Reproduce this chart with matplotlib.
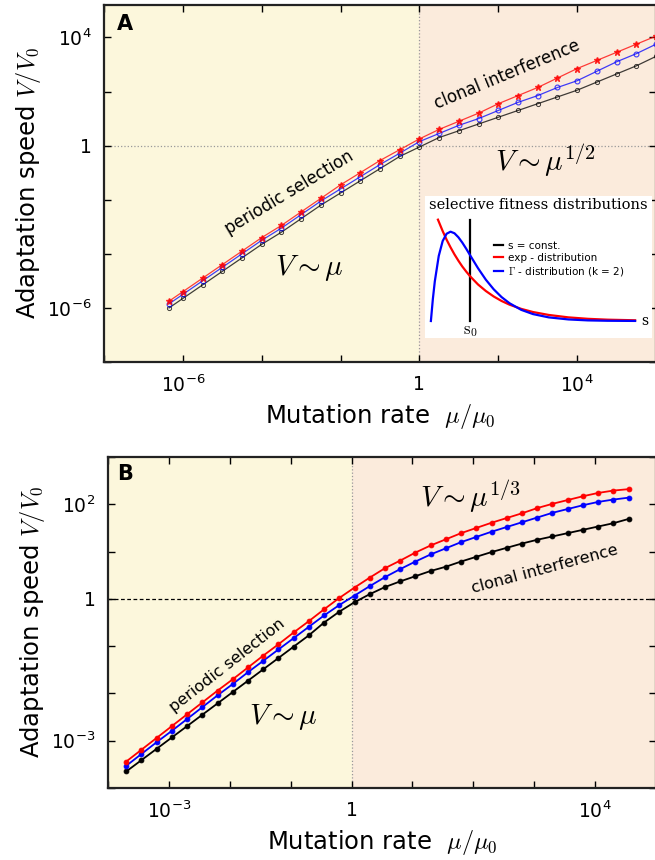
import numpy as np
import matplotlib.pyplot as plt

plt.rcParams['mathtext.fontset'] = 'cm'
plt.rcParams['font.family'] = ['DejaVu Sans']

# ---- panel A data (log10 values)
mu_a_log = [-6.35, -6.0, -5.5, -5.0, -4.5, -4.0, -3.5, -3.0, -2.5, -2.0, -1.5, -1.0, -0.5,
            0.0, 0.5, 1.0, 1.5, 2.0, 2.5, 3.0, 3.5, 4.0, 4.5, 5.0, 5.5, 6.0]
va_black = [-6.0, -5.65, -5.15, -4.65, -4.15, -3.65, -3.2, -2.7, -2.2, -1.75, -1.3, -0.85, -0.4,
            -0.05, 0.3, 0.55, 0.8, 1.05, 1.3, 1.55, 1.8, 2.05, 2.35, 2.65, 2.95, 3.3]
va_red = [-5.75, -5.4, -4.9, -4.4, -3.9, -3.4, -2.95, -2.45, -1.95, -1.45, -1.0, -0.55, -0.15,
          0.25, 0.6, 0.9, 1.2, 1.55, 1.85, 2.15, 2.5, 2.85, 3.15, 3.45, 3.75, 4.05]
va_blue = [-5.85, -5.5, -5.0, -4.5, -4.0, -3.5, -3.05, -2.55, -2.05, -1.6, -1.15, -0.7, -0.28,
           0.15, 0.45, 0.75, 1.0, 1.3, 1.6, 1.85, 2.15, 2.4, 2.75, 3.1, 3.4, 3.75]

# ---- panel B data
mu_b_log = [-3.70, -3.45, -3.20, -2.95, -2.70, -2.45, -2.20, -1.95, -1.70, -1.45, -1.20, -0.95,
            -0.70, -0.45, -0.20, 0.05, 0.30, 0.55, 0.80, 1.05, 1.30, 1.55, 1.80, 2.05, 2.30,
            2.55, 2.80, 3.05, 3.30, 3.55, 3.80, 4.05, 4.30, 4.55]
vb_red = [-3.44, -3.19, -2.94, -2.69, -2.44, -2.19, -1.94, -1.70, -1.45, -1.20, -0.96, -0.71,
          -0.47, -0.22, 0.02, 0.24, 0.45, 0.65, 0.81, 0.98, 1.13, 1.26, 1.39, 1.50, 1.61,
          1.71, 1.81, 1.92, 2.01, 2.09, 2.17, 2.24, 2.29, 2.32]
vb_blue = [-3.53, -3.28, -3.03, -2.79, -2.54, -2.29, -2.04, -1.80, -1.55, -1.31, -1.07, -0.83,
           -0.59, -0.35, -0.13, 0.07, 0.27, 0.46, 0.63, 0.79, 0.94, 1.07, 1.20, 1.31, 1.42,
           1.52, 1.62, 1.72, 1.82, 1.90, 1.98, 2.05, 2.10, 2.14]
vb_black = [-3.65, -3.41, -3.17, -2.93, -2.69, -2.45, -2.21, -1.97, -1.73, -1.49, -1.25, -1.01,
            -0.77, -0.50, -0.27, -0.07, 0.10, 0.25, 0.37, 0.48, 0.59, 0.68, 0.79, 0.89, 0.99,
            1.08, 1.17, 1.25, 1.32, 1.39, 1.46, 1.53, 1.60, 1.69]

# ---- inset: fitness distributions (s in units of s0)
s_gam = [0, 0.05, 0.1, 0.2, 0.3, 0.4, 0.5, 0.6, 0.7, 0.8, 0.9, 1.0, 1.2, 1.4, 1.6, 1.8, 2.0,
         2.3, 2.6, 3.0, 3.5, 4.0, 4.5, 5.2]
p_gam = [0, 0.181, 0.327, 0.536, 0.659, 0.719, 0.736, 0.723, 0.690, 0.646, 0.595, 0.541, 0.435,
         0.340, 0.261, 0.197, 0.147, 0.092, 0.057, 0.030, 0.013, 0.005, 0.002, 0.0006]
s_exp = [0.18, 0.3, 0.4, 0.5, 0.6, 0.7, 0.8, 0.9, 1.0, 1.2, 1.4, 1.6, 1.8, 2.0, 2.3, 2.6, 3.0,
         3.5, 4.0, 4.5, 5.2]
p_exp = [0.835, 0.741, 0.670, 0.607, 0.549, 0.497, 0.449, 0.407, 0.368, 0.301, 0.247, 0.202,
         0.165, 0.135, 0.100, 0.074, 0.050, 0.030, 0.018, 0.011, 0.006]

YELLOW = '#fcf7dc'
PEACH = '#fbebdc'
W, H = 655, 860


def fpos(x, y):
    return x / W, 1 - y / H


fig = plt.figure(figsize=(6.55, 8.6), dpi=100)


def style_axes(ax, xlim, ylim, xt, xl, yt, yl):
    ax.set_xscale('log')
    ax.set_yscale('log')
    ax.set_xlim(*xlim)
    ax.set_ylim(*ylim)
    ax.axvspan(xlim[0], 1, color=YELLOW, zorder=0, lw=0)
    ax.axvspan(1, xlim[1], color=PEACH, zorder=0, lw=0)
    ax.set_xticks(xt, xl)
    ax.set_yticks(yt, yl)
    ax.minorticks_off()
    ax.tick_params(direction='in', top=True, right=True, length=5, width=1,
                   labelsize=13.5, pad=9)
    for sp in ax.spines.values():
        sp.set_linewidth(1.6)
        sp.set_color('#222222')
    ax.set_xlabel(r'Mutation rate  $\mu/\mu_0$', fontsize=17.5, labelpad=4)
    ax.set_ylabel(r'Adaptation speed $V/V_0$', fontsize=17.5, labelpad=3)


def lab(k, mode):
    if k == 0:
        return '1'
    return r'$\mathdefault{10^{%d}}$' % k if k in mode else ''


# ---------------- panel A
axA = fig.add_axes([104 / W, 1 - 362 / H, 552 / W, 357 / H])
xa = list(range(-8, 7, 2))
ya = list(range(-8, 6, 2))
style_axes(axA, (1e-8, 1e6), (10 ** -7.8, 10 ** 5.2),
           [10.0 ** k for k in xa], [lab(k, (-6, 4)) for k in xa],
           [10.0 ** k for k in ya], [lab(k, (-6, 4)) for k in ya])
axA.axvline(1, color='#999999', ls=':', lw=0.9, zorder=1)
axA.axhline(1, color='#999999', ls=':', lw=0.9, zorder=1)

mua = 10.0 ** np.array(mu_a_log)
axA.plot(mua, 10.0 ** np.array(va_black), color='black', lw=0.9, marker='o', ms=3,
         mfc='none', mew=0.7, alpha=0.75, zorder=3)
axA.plot(mua, 10.0 ** np.array(va_blue), color='blue', lw=0.9, marker='o', ms=3.5,
         mfc='none', mew=0.8, alpha=0.75, zorder=4)
axA.plot(mua, 10.0 ** np.array(va_red), color='red', lw=0.9, marker='*', ms=5,
         alpha=0.75, zorder=5)

fig.text(*fpos(117, 24), 'A', fontsize=15, fontweight='bold', va='center', ha='left')
fig.text(*fpos(507, 75), 'clonal interference', fontsize=12, rotation=22.5,
         ha='center', va='center', rotation_mode='anchor')
fig.text(*fpos(289, 193), 'periodic selection', fontsize=12, rotation=31,
         ha='center', va='center', rotation_mode='anchor')
fig.text(*fpos(309, 268), r'$V\sim\mu$', fontsize=21, ha='center', va='center')
fig.text(*fpos(545, 160), r'$V\sim\mu^{1/2}$', fontsize=21, ha='center', va='center')

# inset
axI = fig.add_axes([425 / W, 1 - 338 / H, 227 / W, 142 / H])
axI.set_xlim(-0.15, 5.63)
axI.set_ylim(-0.14, 1.03)
axI.set_facecolor('white')
for sp in axI.spines.values():
    sp.set_visible(False)
axI.set_xticks([])
axI.set_yticks([])
axI.plot([1, 1], [0, 0.83], color='black', lw=1.6, label='s = const.')
axI.plot(s_exp, p_exp, color='red', lw=1.6, label='exp - distribution')
axI.plot(s_gam, p_gam, color='blue', lw=1.6, label=r'$\Gamma$ - distribution (k = 2)')
axI.text(0.5, 0.985, 'selective fitness distributions', transform=axI.transAxes,
         family='DejaVu Serif', fontsize=10.5, ha='center', va='top')
axI.text(5.35, 0.0, 's', family='DejaVu Serif', fontsize=10, ha='left', va='center')
axI.text(1.0, -0.07, r'$\mathrm{s}_0$', fontsize=12, ha='center', va='center')
axI.legend(loc='upper left', bbox_to_anchor=(0.28, 0.72), frameon=False, fontsize=7.5,
           handlelength=0.9, handletextpad=0.5, labelspacing=0.2, borderpad=0)

# ---------------- panel B
axB = fig.add_axes([108 / W, 1 - 788 / H, 548 / W, 331 / H])
xb = list(range(-4, 6))
yb = list(range(-4, 4))
style_axes(axB, (1e-4, 1e5), (1e-4, 1e3),
           [10.0 ** k for k in xb], [lab(k, (-3, 4)) for k in xb],
           [10.0 ** k for k in yb], [lab(k, (-3, 2)) for k in yb])
axB.axvline(1, color='#999999', ls=':', lw=0.9, zorder=1)
axB.axhline(1, color='black', ls=(0, (3, 2)), lw=0.9, zorder=1)

mub = 10.0 ** np.array(mu_b_log)
for vals, col, z in [(vb_black, 'black', 3), (vb_blue, 'blue', 4), (vb_red, 'red', 5)]:
    axB.plot(mub, 10.0 ** np.array(vals), color=col, lw=1.3, marker='o', ms=3.5,
             mew=0.6, mfc=col, zorder=z)

fig.text(*fpos(117, 474), 'B', fontsize=15, fontweight='bold', va='center', ha='left')
fig.text(*fpos(470, 496), r'$V\sim\mu^{1/3}$', fontsize=21, ha='center', va='center')
fig.text(*fpos(545, 569), 'clonal interference', fontsize=11.5, rotation=15,
         ha='center', va='center', rotation_mode='anchor')
fig.text(*fpos(227, 665), 'periodic selection', fontsize=11.5, rotation=38,
         ha='center', va='center', rotation_mode='anchor')
fig.text(*fpos(283, 717), r'$V\sim\mu$', fontsize=21, ha='center', va='center')

fig.savefig('out.png', dpi=100)
